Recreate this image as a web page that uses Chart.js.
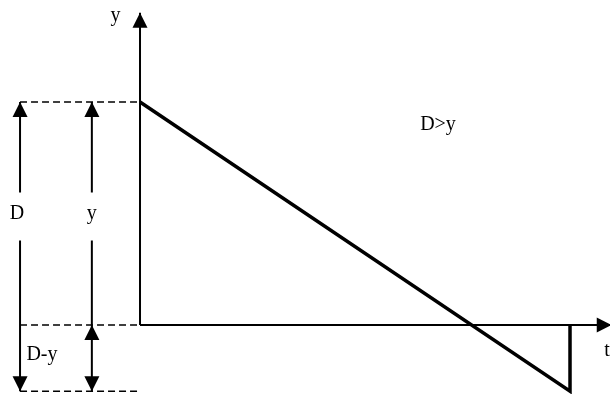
<!DOCTYPE html>
<html><head><meta charset="utf-8">
<script src="https://cdn.jsdelivr.net/npm/chart.js@4/dist/chart.umd.min.js"></script>
<style>html,body{margin:0;padding:0;background:#fff}#wrap{width:610px;height:394px;position:relative}</style>
</head><body><div id="wrap"><canvas id="c"></canvas></div>
<script>
// Quantities (abstract units): D = initial height, y decreases linearly with t
const D = 3;
const tEnd = 10;
const yEnd = -0.89;
const lineT = [0, tEnd, tEnd];
const lineY = [D, yEnd, 0];
const yAxisTip = 4.2;
const tAxisTip = 10.97;
const dimLeftT = -2.79;
const dimMidT = -1.12;
const dashedLevels = [D, 0, yEnd];
const labelTexts = ['y', 't', 'D', 'y', 'D-y', 'D>y'];
const labelT = [-0.57, 10.86, -2.86, dimMidT, -2.28, 6.93];
const labelY = [4.16, -0.34, 1.5, 1.5, -0.40, 2.70];
const labelBg = [false, false, true, true, false, false];

const ds = [];
// main line
ds.push({data: lineT.map((t,i)=>({x:t,y:lineY[i]})), borderColor:'#000', borderWidth:3.5, pointRadius:0, borderJoinStyle:'miter'});
// axes
ds.push({data:[{x:0,y:0},{x:0,y:yAxisTip}], borderColor:'#000', borderWidth:2, pointRadius:0, arrow:'end'});
ds.push({data:[{x:0,y:0},{x:tAxisTip,y:0}], borderColor:'#000', borderWidth:2, pointRadius:0, arrow:'end'});
// dashed reference lines
dashedLevels.forEach(v=>ds.push({data:[{x:dimLeftT,y:v},{x:0,y:v}], borderColor:'#000', borderWidth:1.5, borderDash:[7,4], pointRadius:0}));
// dimension arrows
ds.push({data:[{x:dimLeftT,y:yEnd},{x:dimLeftT,y:D}], borderColor:'#000', borderWidth:2, pointRadius:0, arrow:'both'});
ds.push({data:[{x:dimMidT,y:0},{x:dimMidT,y:D}], borderColor:'#000', borderWidth:2, pointRadius:0, arrow:'end'});
ds.push({data:[{x:dimMidT,y:yEnd},{x:dimMidT,y:0}], borderColor:'#000', borderWidth:2, pointRadius:0, arrow:'both'});

function head(ctx, tx, ty, fx, fy){
  const ang = Math.atan2(ty-fy, tx-fx);
  const L = 15, W = 7.5;
  ctx.beginPath();
  ctx.moveTo(tx, ty);
  ctx.lineTo(tx - L*Math.cos(ang) + W*Math.sin(ang), ty - L*Math.sin(ang) - W*Math.cos(ang));
  ctx.lineTo(tx - L*Math.cos(ang) - W*Math.sin(ang), ty - L*Math.sin(ang) + W*Math.cos(ang));
  ctx.closePath();
  ctx.fill();
}

const deco = {
  id:'deco',
  afterDatasetsDraw(chart){
    const ctx = chart.ctx, xs = chart.scales.x, ys = chart.scales.y;
    ctx.save();
    ctx.fillStyle = '#000';
    chart.data.datasets.forEach(d=>{
      if(!d.arrow) return;
      const p0 = d.data[0], p1 = d.data[d.data.length-1];
      const x0 = xs.getPixelForValue(p0.x), y0 = ys.getPixelForValue(p0.y);
      const x1 = xs.getPixelForValue(p1.x), y1 = ys.getPixelForValue(p1.y);
      head(ctx, x1, y1, x0, y0);
      if(d.arrow==='both') head(ctx, x0, y0, x1, y1);
    });
    ctx.font = '20px "Liberation Serif", "Times New Roman", serif';
    ctx.textAlign = 'center';
    ctx.textBaseline = 'middle';
    labelTexts.forEach((s,i)=>{
      const px = xs.getPixelForValue(labelT[i]), py = ys.getPixelForValue(labelY[i]);
      if(labelBg[i]){
        ctx.fillStyle = '#fff';
        ctx.fillRect(px-10, py-21, 20, 48);
      }
      ctx.fillStyle = '#000';
      ctx.fillText(s, px, py);
    });
    ctx.restore();
  }
};

new Chart(document.getElementById('c'), {
  type:'line',
  data:{datasets:ds},
  options:{
    responsive:true, maintainAspectRatio:false, animation:false,
    layout:{padding:0},
    plugins:{legend:{display:false}, tooltip:{enabled:false}},
    scales:{
      x:{type:'linear', display:false, min:-3.256, max:10.93},
      y:{type:'linear', display:false, min:-0.928, max:4.372}
    }
  },
  plugins:[deco]
});
</script></body></html>
